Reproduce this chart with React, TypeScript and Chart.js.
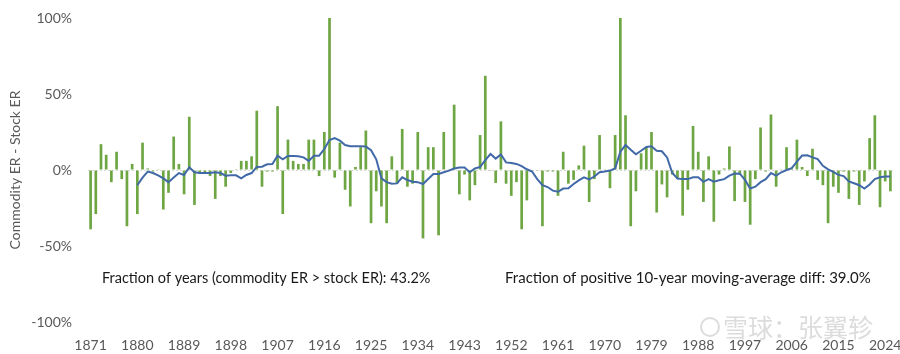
import React, { useEffect, useRef } from 'react';
import { Chart, registerables } from 'chart.js';

Chart.register(...registerables);

const firstYear = 1871;
const lastYear = 2025;
const years: string[] = Array.from({ length: lastYear - firstYear + 1 }, (_, i) => String(firstYear + i));

const xTickYears: string[] = [
  '1871', '1880', '1889', '1898', '1907', '1916', '1925', '1934', '1943',
  '1952', '1961', '1970', '1979', '1988', '1997', '2006', '2015', '2024',
];

const yTickValues: number[] = [-100, -50, 0, 50, 100];

// Commodity excess return minus stock excess return, % (one per year 1871-2025)
const diffValues: number[] = [
  -39, -29, 17, 10, -8, 12, -6, -37, 4, -29,
  18, 1, -1, 0.5, -26, -15, 22, 4, -16, 35,
  -23, -2, -2, -4, -19, -4, -11, -2, 0.5, 6,
  6, 9, 39, -11, -1, -1, 42, -29, 20, 6,
  4, 4, 20, 20, -4, 25, 100, -5, 18, -13,
  -24, 2, 15, 26, -35, -14, -24, -35, 9, -9,
  27, -11, -9, 25, -45, 15, 15, -43, 25, 0.5,
  43, -16, -3, -20, -10, 23, 62, -0.5, -8.5, 32,
  -9, -17, -8, -39, -20, -0.5, -0.5, -37, -1, -1,
  -17, 12, -9, -6.5, 3, 16, -21, -6, 23, 0.5,
  -12, 23, 100, 36, -37, -14, 11, 15, 25, -28,
  -9.5, -18, -3, -6, -30, -13, 29, 12, -21, 9,
  -34, -3, 1, 15.5, -20.5, -3, -21, -36, -6, 28,
  -1, 36.5, -11, 0.5, 15, 1, 20, 2, -4, 14,
  -6.5, -10, -35, -11, -15, -1, -19, -1, -23, -7.5,
  21, 36, -24.5, -7.5, -14,
];

// 10-year moving average of the difference, % (starts 1880)
const movingAvg: (number | null)[] = [
  null, null, null, null, null, null, null, null, null,
  -10, -5, -1, -2, -3.5, -5.5, -8, -5, -2, -3.3,
  1.8, -1.5, -2, -2, -2, -1.5, -2, -3.7, -3.5, -3.5,
  -5.5, -3.3, -2, 2, 2.2, 3.8, 4, 9.4, 7, 9.2,
  9.2, 9, 8.3, 6, 9.4, 9.4, 13.8, 19.7, 21, 19.3,
  16.4, 15.6, 15.6, 15.6, 15.4, 13, 7, -5.5, -8, -9,
  -8.8, -4.8, -6.6, -7.7, -8, -9.2, -5.9, -2.6, -2.6, -1.5,
  -0.4, 1, 1.7, 1.7, -1.5, 1, 2, 6.5, 10.5, 7.5,
  10.2, 5, 4.6, 4, 2.5, 0.5, -1, -6, -10, -11.2,
  -13.6, -14.3, -12.2, -12, -9.2, -6.8, -4.8, -6.2, -4.3, -1.5,
  -1, -0.4, 1, 12, 16.4, 13.3, 10.3, 12.7, 15.2, 15.6,
  12.7, 12.3, 8.3, -2, -5.6, -6, -6, -4.8, -4.8, -7.8,
  -6, -7.7, -6.8, -6, -3.7, -2.3, -2.4, -6.5, -12.2, -11,
  -8, -6, -2, -3.7, -1.5, 0, 1.2, 5.5, 9.5, 9.7,
  8.3, 7.2, 2.8, 0.4, -1.2, -3.2, -4, -7.5, -8.7, -10,
  -12.2, -9.5, -6, -4.8, -4.3, -4.3,
];

const yAxisTitle = 'Commodity ER - Stock ER';
const noteLeft = 'Fraction of years (commodity ER > stock ER): 43.2%';
const noteRight = 'Fraction of positive 10-year moving-average diff: 39.0%';
const watermark = '雪球：张翼轸';

const FONT = 'Lato, "Open Sans", sans-serif';

const notesPlugin = {
  id: 'notes',
  afterDraw(chart: any) {
    const ctx = chart.ctx as CanvasRenderingContext2D;
    ctx.save();
    ctx.fillStyle = '#1a1a1a';
    ctx.textBaseline = 'middle';
    ctx.textAlign = 'left';
    ctx.font = '14.5px ' + FONT;
    ctx.fillText(noteLeft, 102, 278);
    ctx.font = '15px ' + FONT;
    ctx.fillText(noteRight, 505, 278);
    // watermark
    ctx.globalAlpha = 0.6;
    ctx.strokeStyle = '#c4c4c4';
    ctx.lineWidth = 2;
    ctx.beginPath();
    ctx.arc(710, 327, 9, 0, Math.PI * 2);
    ctx.stroke();
    ctx.font = '25px "Noto Sans CJK SC"';
    ctx.fillStyle = '#c4c4c4';
    ctx.textAlign = 'left';
    ctx.fillText(watermark, 723, 327);
    ctx.restore();
  },
};

export default function App() {
  const canvasRef = useRef<HTMLCanvasElement | null>(null);

  useEffect(() => {
    const canvas = canvasRef.current;
    if (!canvas) return;
    const chart = new Chart(canvas, {
      type: 'bar',
      data: {
        labels: years,
        datasets: [
          {
            type: 'line',
            label: '10-year MA',
            data: movingAvg,
            borderColor: '#4169a8',
            borderWidth: 2,
            pointRadius: 0,
            tension: 0,
            spanGaps: false,
            order: 0,
          } as any,
          {
            type: 'bar',
            label: 'Diff',
            data: diffValues,
            backgroundColor: '#6fa644',
            barPercentage: 0.52,
            categoryPercentage: 1,
            order: 1,
          },
        ],
      },
      options: {
        responsive: false,
        animation: false,
        devicePixelRatio: 1,
        layout: { autoPadding: false, padding: { left: 0, right: 7, top: 18, bottom: 0 } },
        plugins: { legend: { display: false }, tooltip: { enabled: false } },
        scales: {
          x: {
            offset: true,
            grid: { display: false, drawTicks: false },
            border: { display: false },
            ticks: {
              autoSkip: false,
              maxRotation: 0,
              minRotation: 0,
              padding: 15,
              color: '#595959',
              font: { family: FONT, size: 14 },
              callback: (_v: any, idx: number) => (xTickYears.includes(years[idx]) ? years[idx] : ''),
            },
            afterFit: (s: any) => {
              s.height = 32;
              s.paddingLeft = 0;
              s.paddingRight = 0;
            },
          },
          y: {
            min: -100,
            max: 100,
            afterBuildTicks: (s: any) => {
              s.ticks = yTickValues.map((v) => ({ value: v }));
            },
            ticks: {
              padding: 16,
              color: '#595959',
              font: { family: FONT, size: 14 },
              callback: (v: any) => v + '%',
            },
            grid: {
              drawTicks: false,
              color: (c: any) => (c.tick && c.tick.value === 0 ? '#d9d9d9' : 'rgba(0,0,0,0)'),
              lineWidth: 1,
            },
            border: { display: false, dash: [2, 2] },
            title: {
              display: true,
              text: yAxisTitle,
              color: '#595959',
              font: { family: FONT, size: 14 },
              padding: { top: 7, bottom: 0 },
            },
            afterFit: (s: any) => {
              s.width = 88;
              s.paddingTop = 0;
              s.paddingBottom = 0;
            },
          },
        },
      },
      plugins: [notesPlugin],
    });
    return () => chart.destroy();
  }, []);

  return (
    <div style={{ position: 'fixed', left: 0, top: 0, width: 900, height: 354, background: '#fff' }}>
      <canvas ref={canvasRef} width={900} height={354} style={{ display: 'block' }} />
    </div>
  );
}
